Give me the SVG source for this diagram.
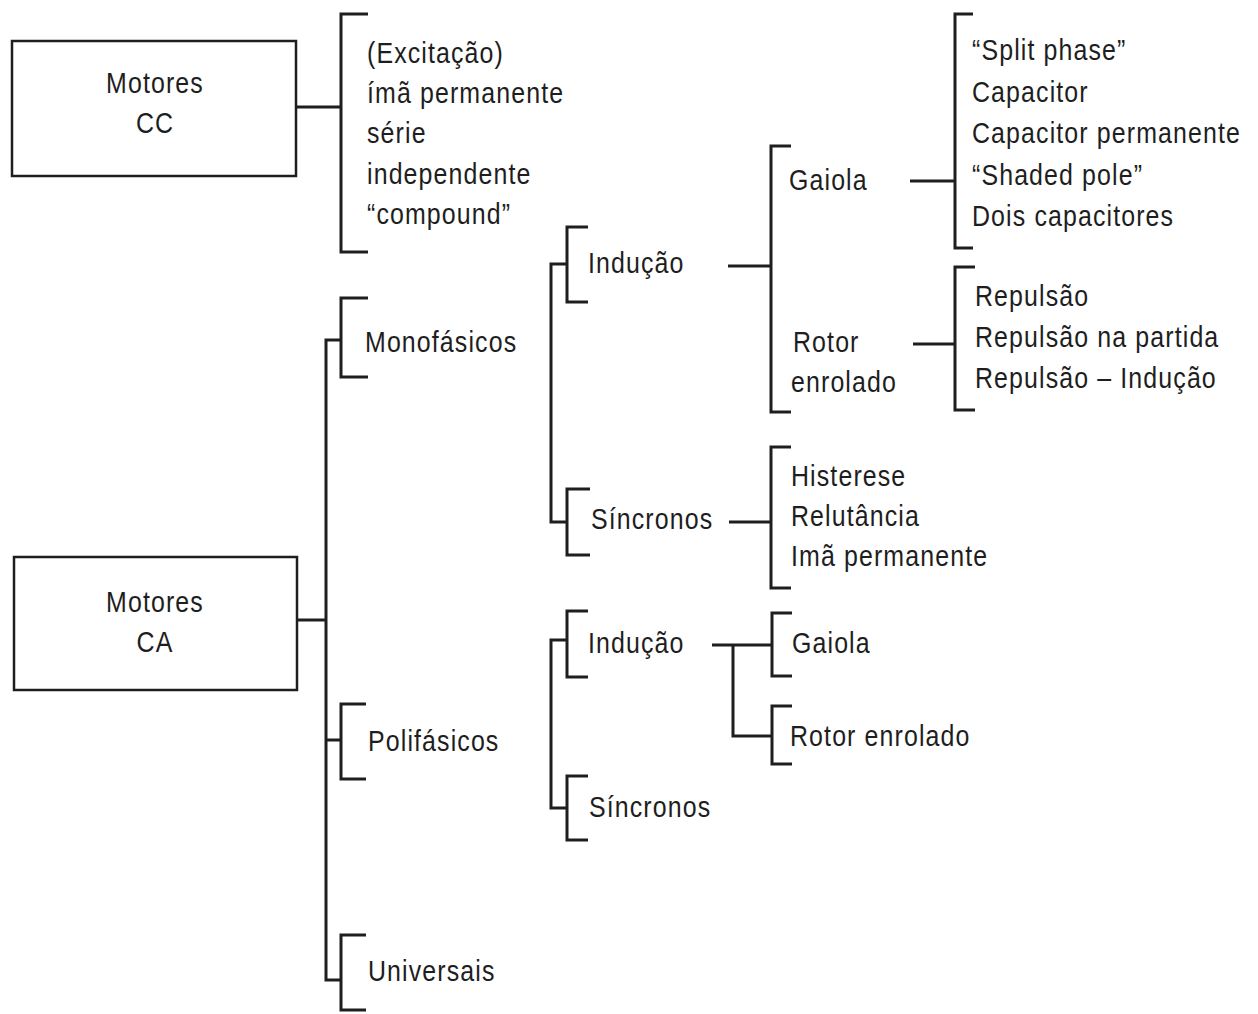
<svg xmlns="http://www.w3.org/2000/svg" width="1258" height="1014" viewBox="0 0 1258 1014">
<style>
text{font-family:"Liberation Sans",Arial,sans-serif;font-size:29px;letter-spacing:1.3px;fill:#1e1e1e}
.c{text-anchor:middle}
.b{fill:none;stroke:#1e1e1e;stroke-width:3;stroke-linejoin:miter;stroke-linecap:butt}
.box{fill:#fff;stroke:#1e1e1e;stroke-width:2.5}
</style>
<rect width="1258" height="1014" fill="#fff"/>
<g id="connectors">
<path class="b" d="M296 107H341"/>
<path class="b" d="M297 620H326"/>
<path class="b" d="M341 340H326V980H341M326 740H341"/>
<path class="b" d="M567 264H551V522H567"/>
<path class="b" d="M728 266H771"/>
<path class="b" d="M910 181H955"/>
<path class="b" d="M913 344H955"/>
<path class="b" d="M729 522H771"/>
<path class="b" d="M567 640H551V808H567"/>
<path class="b" d="M712 645H772M733 645V736H772"/>
</g>
<g id="motores-cc">
<rect class="box" x="12" y="41" width="284" height="135"/>
<text class="c" transform="translate(155 93) scale(0.86 1)">Motores</text>
<text class="c" transform="translate(155 133) scale(0.86 1)">CC</text>
</g>
<g id="cc-tipos">
<path class="b" d="M368 14H341V252H368"/>
<text transform="translate(367 63) scale(0.86 1)">(Excitação)</text>
<text transform="translate(367 103) scale(0.86 1)">ímã permanente</text>
<text transform="translate(367 143) scale(0.86 1)">série</text>
<text transform="translate(367 184) scale(0.86 1)">independente</text>
<text transform="translate(367 224) scale(0.86 1)">“compound”</text>
</g>
<g id="motores-ca">
<rect class="box" x="14" y="557" width="283" height="133"/>
<text class="c" transform="translate(155 612) scale(0.86 1)">Motores</text>
<text class="c" transform="translate(155 652) scale(0.86 1)">CA</text>
</g>
<g id="monofasicos">
<path class="b" d="M368 298H341V377H368"/>
<text transform="translate(365 352) scale(0.86 1)">Monofásicos</text>
</g>
<g id="polifasicos">
<path class="b" d="M366 704H341V779H366"/>
<text transform="translate(368 751) scale(0.86 1)">Polifásicos</text>
</g>
<g id="universais">
<path class="b" d="M366 935H341V1010H366"/>
<text transform="translate(368 981) scale(0.86 1)">Universais</text>
</g>
<g id="mono-inducao">
<path class="b" d="M588 227H567V302H588"/>
<text transform="translate(588 273) scale(0.86 1)">Indução</text>
</g>
<g id="mono-sincronos">
<path class="b" d="M590 489H567V555H590"/>
<text transform="translate(591 529) scale(0.86 1)">Síncronos</text>
</g>
<g id="gaiola-rotor">
<path class="b" d="M791 146H771V412H791"/>
<text transform="translate(789 190) scale(0.86 1)">Gaiola</text>
<text transform="translate(793 352) scale(0.86 1)">Rotor</text>
<text transform="translate(791 392) scale(0.86 1)">enrolado</text>
</g>
<g id="gaiola-tipos">
<path class="b" d="M973 14H955V248H973"/>
<text transform="translate(972 60) scale(0.86 1)">“Split phase”</text>
<text transform="translate(972 102) scale(0.86 1)">Capacitor</text>
<text transform="translate(972 143) scale(0.86 1)">Capacitor permanente</text>
<text transform="translate(972 185) scale(0.86 1)">“Shaded pole”</text>
<text transform="translate(972 226) scale(0.86 1)">Dois capacitores</text>
</g>
<g id="rotor-tipos">
<path class="b" d="M975 267H955V410H975"/>
<text transform="translate(975 306) scale(0.86 1)">Repulsão</text>
<text transform="translate(975 347) scale(0.86 1)">Repulsão na partida</text>
<text transform="translate(975 388) scale(0.86 1)">Repulsão – Indução</text>
</g>
<g id="sincronos-tipos">
<path class="b" d="M791 447H771V588H791"/>
<text transform="translate(791 486) scale(0.86 1)">Histerese</text>
<text transform="translate(791 526) scale(0.86 1)">Relutância</text>
<text transform="translate(791 566) scale(0.86 1)">Imã permanente</text>
</g>
<g id="poli-inducao">
<path class="b" d="M588 611H567V677H588"/>
<text transform="translate(588 653) scale(0.86 1)">Indução</text>
</g>
<g id="poli-sincronos">
<path class="b" d="M588 776H567V840H588"/>
<text transform="translate(589 817) scale(0.86 1)">Síncronos</text>
</g>
<g id="poli-gaiola">
<path class="b" d="M792 613H772V676H792"/>
<text transform="translate(792 653) scale(0.86 1)">Gaiola</text>
</g>
<g id="poli-rotor">
<path class="b" d="M792 706H772V764H792"/>
<text transform="translate(790 746) scale(0.86 1)">Rotor enrolado</text>
</g>
</svg>
